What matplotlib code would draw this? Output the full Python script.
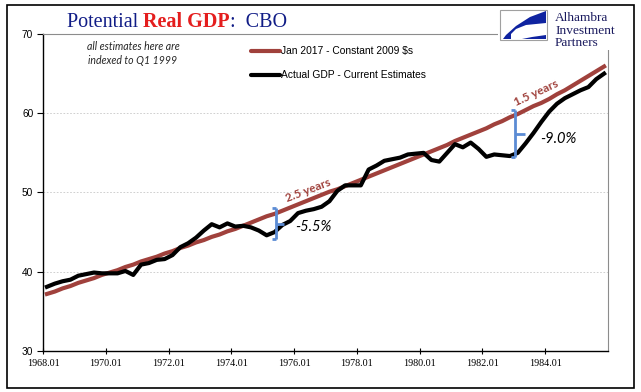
import matplotlib
matplotlib.use('Agg')
import matplotlib.pyplot as plt
from matplotlib.patches import Rectangle, Polygon

# quarterly values from 1968Q1, indexed to Q1 1999
potential = [
    37.2, 37.5, 37.9, 38.2, 38.6, 38.9, 39.2, 39.6,
    39.9, 40.2, 40.6, 40.9, 41.3, 41.6, 41.9, 42.3,
    42.6, 43.0, 43.3, 43.7, 44.0, 44.4, 44.7, 45.1,
    45.4, 45.8, 46.2, 46.6, 47.0, 47.3, 47.7, 48.1,
    48.5, 48.9, 49.3, 49.7, 50.1, 50.4, 50.8, 51.2,
    51.6, 52.0, 52.4, 52.8, 53.2, 53.6, 54.0, 54.4,
    54.8, 55.2, 55.6, 56.0, 56.5, 56.9, 57.3, 57.7,
    58.1, 58.6, 59.0, 59.5, 59.9, 60.4, 60.9, 61.3,
    61.8, 62.4, 62.9, 63.5, 64.1, 64.7, 65.3, 65.9,
]
actual = [
    38.1, 38.5, 38.8, 39.0, 39.5, 39.7, 39.9, 39.8,
    39.8, 39.8, 40.1, 39.6, 40.9, 41.1, 41.5, 41.6,
    42.1, 43.1, 43.6, 44.3, 45.2, 46.0, 45.6, 46.1,
    45.7, 45.8, 45.6, 45.2, 44.6, 45.0, 45.9, 46.4,
    47.4, 47.7, 47.9, 48.2, 48.9, 50.2, 50.9, 50.9,
    50.9, 52.9, 53.4, 54.0, 54.2, 54.4, 54.8, 54.9,
    55.0, 54.1, 53.9, 55.0, 56.1, 55.7, 56.3, 55.5,
    54.5, 54.8, 54.7, 54.6, 55.0, 56.2, 57.5, 58.9,
    60.2, 61.2, 61.9, 62.4, 62.9, 63.3, 64.3, 65.0,
]
tick_labels = ['1968.01', '1970.01', '1972.01', '1974.01', '1976.01',
               '1978.01', '1980.01', '1982.01', '1984.01']
y_ticks = [30, 40, 50, 60, 70]

RED = '#a0413c'
NAVY = '#101c86'
BRACKET = '#5b8bd4'
LOGO_BLUE = '#0f23a0'

W, H = 641, 392


def px(x, y):
    # pixel position (from top-left) -> figure fraction
    return x / W, 1 - y / H


def bracket(ax, x, y0, y1, foot=0.6, arm=1.1):
    kw = dict(color=BRACKET, lw=2, solid_capstyle='butt', zorder=4)
    ax.plot([x, x], [y0, y1], **kw)
    ax.plot([x - foot, x], [y0, y0], **kw)
    ax.plot([x - foot, x], [y1, y1], **kw)
    ym = (y0 + y1) / 2
    ax.plot([x, x + arm], [ym, ym], **kw)


fig = plt.figure(figsize=(W / 100, H / 100), dpi=100)
ax = fig.add_axes([43 / W, 1 - 351 / H, 565 / W, 317 / H])

x = [i + 0.5 for i in range(len(actual))]
ax.plot(x, potential, color=RED, lw=3, zorder=3)
ax.plot(x, actual, color='black', lw=3, zorder=3, solid_joinstyle='round')

ax.set_xlim(0, 72)
ax.set_ylim(30, 70)
ax.set_yticks(y_ticks)
ax.set_xticks(range(0, 8 * len(tick_labels), 8))
ax.set_xticklabels(tick_labels, fontfamily='Liberation Serif', fontsize=7.3)
for lab in ax.get_yticklabels():
    lab.set_fontfamily(['Liberation Sans Narrow', 'Liberation Sans'])
    lab.set_fontsize(7.3)
ax.tick_params(axis='y', length=4, width=0.8, pad=3, direction='out')
ax.tick_params(axis='x', length=5, width=0.8, pad=3, direction='inout')

for y in y_ticks[1:-1]:
    ax.axhline(y, color='#c8c8c8', lw=0.6, ls=(0, (2, 2)), zorder=1)

for side in ('top', 'right'):
    ax.spines[side].set_color('#8c8c8c')
    ax.spines[side].set_linewidth(0.8)
for side in ('left', 'bottom'):
    ax.spines[side].set_color('black')
    ax.spines[side].set_linewidth(1.0)

# legend drawn by hand, Excel style
ax.plot([0.368, 0.419], [0.946, 0.946], transform=ax.transAxes, color=RED,
        lw=3, solid_capstyle='round', clip_on=False)
ax.plot([0.368, 0.419], [0.871, 0.871], transform=ax.transAxes, color='black',
        lw=3, solid_capstyle='round', clip_on=False)
ax.text(0.421, 0.946, 'Jan 2017 - Constant 2009 $s', transform=ax.transAxes,
        fontsize=7.4, fontfamily='Liberation Sans', va='center', ha='left')
ax.text(0.421, 0.871, 'Actual GDP - Current Estimates', transform=ax.transAxes,
        fontsize=7.4, fontfamily='Liberation Sans', va='center', ha='left')

# gap annotations
bracket(ax, 29.7, 44.1, 48.0, foot=0.55, arm=1.0)
bracket(ax, 60.2, 54.5, 60.35, foot=0.6, arm=1.2)
ax.text(32.1, 45.6, '-5.5%', fontsize=10.5, style='italic', fontfamily='Lato',
        va='center', ha='left')
ax.text(63.3, 56.7, '-9.0%', fontsize=10.5, style='italic', fontfamily='Lato',
        va='center', ha='left')
ax.text(33.8, 50.3, '2.5 years', fontsize=8.5, fontweight='bold', color=RED,
        fontfamily='Lato', rotation=21, rotation_mode='anchor',
        ha='center', va='center')
ax.text(62.8, 62.6, '1.5 years', fontsize=8.5, fontweight='bold', color=RED,
        fontfamily='Lato', rotation=25, rotation_mode='anchor',
        ha='center', va='center')

# note
fig.text(*px(133, 46), 'all estimates here are', fontsize=7.6, style='italic',
         fontfamily='Lato', color='#262626', ha='center', va='center')
fig.text(*px(133, 60), 'indexed to Q1 1999', fontsize=7.6, style='italic',
         fontfamily='Lato', color='#262626', ha='center', va='center')

# title in three colours
t1 = fig.text(*px(67, 27), 'Potential ', fontsize=14.5,
              fontfamily='Liberation Serif', color=NAVY, va='baseline')
t2 = ax.annotate('Real GDP', xy=(1, 0), xycoords=t1, fontsize=14.5,
                 fontfamily='Liberation Serif', fontweight='bold',
                 color='#e41e1e', va='bottom', ha='left')
ax.annotate(':  CBO', xy=(1, 0), xycoords=t2, fontsize=14.5,
            fontfamily='Liberation Serif', color=NAVY, va='bottom', ha='left')

# logo
# white background behind the logo hides the plot frame there
fig.patches.append(Rectangle(px(498, 50), 115 / W, 44 / H,
                             transform=fig.transFigure, facecolor='white',
                             edgecolor='none', zorder=4))
logo_box = Rectangle(px(500, 40), 47 / W, 30 / H, transform=fig.transFigure,
                     facecolor='white', edgecolor='#a0a0a0', lw=0.8, zorder=5)
fig.patches.append(logo_box)
swoosh = [px(546, 11), px(530, 17), px(516, 26), px(506, 35), px(503, 39),
          px(511, 39), px(511, 34), px(516, 29), px(526, 25), px(546, 23)]
fig.patches.append(Polygon(swoosh, closed=True, transform=fig.transFigure,
                           facecolor=LOGO_BLUE, edgecolor='none', zorder=6))
sliver = [px(522, 39), px(546, 39), px(546, 35), px(532, 37)]
fig.patches.append(Polygon(sliver, closed=True, transform=fig.transFigure,
                           facecolor=LOGO_BLUE, edgecolor='none', zorder=6))
for i, word in enumerate(['Alhambra', 'Investment', 'Partners']):
    fig.text(*px(555, 21 + 12.5 * i), word, fontsize=9.6,
             fontfamily='Liberation Serif', color='#1a1a5e',
             va='baseline', ha='left', zorder=7)

# outer frame
fig.patches.append(Rectangle(px(7, 388), 627 / W, 383 / H,
                             transform=fig.transFigure, fill=False,
                             edgecolor='black', lw=1.2, zorder=8))

fig.savefig('out.png', dpi=100)
